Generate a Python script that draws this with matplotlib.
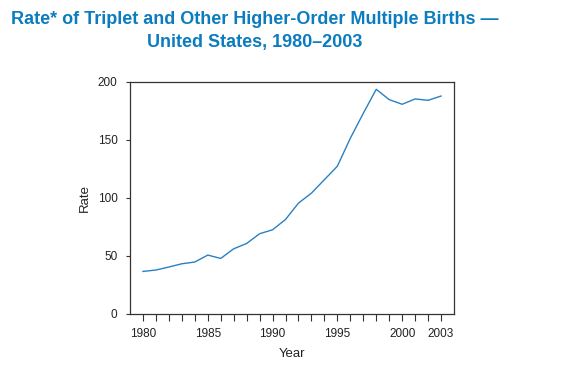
import matplotlib
matplotlib.use("Agg")
import matplotlib.pyplot as plt

years = list(range(1980, 2004))
rates = [36.7, 37.9, 40.5, 43.3, 44.8, 50.8, 47.9, 56.2, 60.8, 69.2, 72.6, 81.5,
         95.6, 104.2, 115.8, 127.4, 151.5, 173.0, 193.7, 184.8, 180.8, 185.4, 184.2, 187.9]
xtick_labels = ["1980", "1985", "1990", "1995", "2000", "2003"]
xtick_vals = [1980, 1985, 1990, 1995, 2000, 2003]
yticks = [0, 50, 100, 150, 200]

plt.rcParams['font.family'] = ['Liberation Sans', 'DejaVu Sans']

fig = plt.figure(figsize=(5.72, 3.69), dpi=100)
ax = fig.add_axes([130/572, 1-314/369, (454-130)/572, (314-82)/369])

ax.plot(years, rates, color='#2a80c2', lw=1.0)
ax.set_xlim(1979, 2004)
ax.set_ylim(0, 200)

ax.set_xticks(years)
ax.set_xticklabels([str(y) if y in xtick_vals else "" for y in years])
ax.set_yticks(yticks)
ax.tick_params(axis='x', length=5, width=0.8, colors='#333333', labelcolor='#222222', labelsize=8.5, pad=5)
ax.tick_params(axis='y', length=3, width=0.8, colors='#333333', labelcolor='#222222', labelsize=8.5, pad=6)
for s in ax.spines.values():
    s.set_color('#333333')
    s.set_linewidth(0.9)

ax.set_xlabel("Year", fontsize=9.5, color='#222222', labelpad=6)
ax.set_ylabel("Rate", fontsize=9.5, color='#222222', labelpad=5)

fig.text(255/572, 1-20/369, "Rate* of Triplet and Other Higher-Order Multiple Births \u2014",
         ha='center', va='center', fontsize=13, fontweight='bold', color='#0b7cc0')
fig.text(255/572, 1-43/369, "United States, 1980\u20132003",
         ha='center', va='center', fontsize=13, fontweight='bold', color='#0b7cc0')

fig.savefig("out.png", dpi=100)
